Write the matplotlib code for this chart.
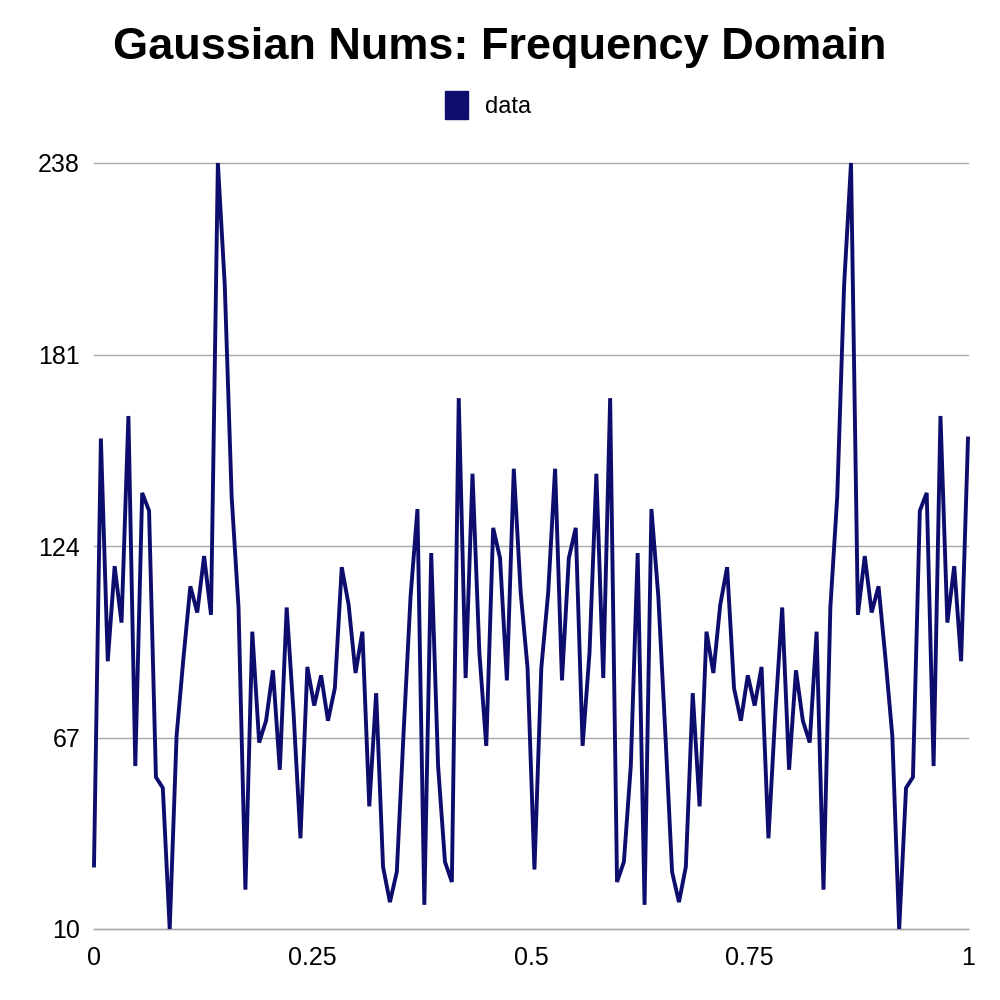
import numpy as np
import matplotlib
matplotlib.use('Agg')
import matplotlib.pyplot as plt
from matplotlib.patches import Patch

plt.rcParams['font.family'] = ['Liberation Sans', 'DejaVu Sans']

# magnitude of the FFT of 128 gaussian numbers
magnitude = [
    28.9, 156.0, 89.7, 118.0, 101.2, 162.7, 58.5, 139.8,
    134.5, 55.2, 52.0, 10.0, 67.5, 90.7, 112.0, 104.2,
    121.0, 103.5, 238.0, 201.7, 138.7, 105.7, 21.7, 98.5,
    65.5, 72.0, 87.0, 57.4, 105.7, 74.2, 37.0, 88.0,
    76.5, 85.5, 72.0, 81.7, 117.7, 106.5, 86.2, 98.5,
    46.5, 80.2, 28.5, 18.0, 27.0, 69.0, 109.0, 135.0,
    17.2, 121.9, 58.5, 30.0, 24.0, 168.0, 84.7, 145.5,
    92.2, 64.5, 129.4, 120.4, 84.0, 147.0, 110.2, 87.7,
    27.7, 87.7, 110.2, 147.0, 84.0, 120.4, 129.4, 64.5,
    92.2, 145.5, 84.7, 168.0, 24.0, 30.0, 58.5, 121.9,
    17.2, 135.0, 109.0, 69.0, 27.0, 18.0, 28.5, 80.2,
    46.5, 98.5, 86.2, 106.5, 117.7, 81.7, 72.0, 85.5,
    76.5, 88.0, 37.0, 74.2, 105.7, 57.4, 87.0, 72.0,
    65.5, 98.5, 21.7, 105.7, 138.7, 201.7, 238.0, 103.5,
    121.0, 104.2, 112.0, 90.7, 67.5, 10.0, 52.0, 55.2,
    134.5, 139.8, 58.5, 162.7, 101.2, 118.0, 89.7, 156.0,
]
freq = np.linspace(0, 1, len(magnitude))

y_ticks = [10, 67, 124, 181, 238]
x_ticks = [0, 0.25, 0.5, 0.75, 1]
x_labels = ['0', '0.25', '0.5', '0.75', '1']

line_color = '#0d0d6e'

fig = plt.figure(figsize=(10, 10), dpi=100)
ax = fig.add_axes([0.094, 0.071, 0.874, 0.766])

ax.plot(freq, magnitude, color=line_color, lw=2.8, solid_joinstyle='miter',
        clip_on=False, zorder=3)

ax.set_xlim(0, 1)
ax.set_ylim(10, 238)
ax.set_yticks(y_ticks)
ax.set_yticklabels([str(t) for t in y_ticks])
ax.set_xticks(x_ticks)
ax.set_xticklabels(x_labels)
ax.tick_params(length=0, labelsize=18)
ax.tick_params(axis='y', pad=10)
ax.tick_params(axis='x', pad=12)

ax.grid(axis='y', color='#a8a8a8', lw=1, clip_on=False)
ax.set_axisbelow(True)
for s in ax.spines.values():
    s.set_visible(False)
ax.spines['bottom'].set_visible(True)
ax.spines['bottom'].set_color('#a8a8a8')
ax.spines['bottom'].set_linewidth(1)

fig.text(0.5, 0.953, 'Gaussian Nums: Frequency Domain', ha='center', va='center',
         fontsize=32.5, fontweight='bold')

handle = Patch(facecolor=line_color, edgecolor=line_color)
fig.legend([handle], ['data'], loc='center', bbox_to_anchor=(0.488, 0.895),
           frameon=False, fontsize=17, handlelength=1.0, handleheight=1.4,
           handletextpad=0.7)

fig.savefig('out.png', dpi=100, facecolor='white')
